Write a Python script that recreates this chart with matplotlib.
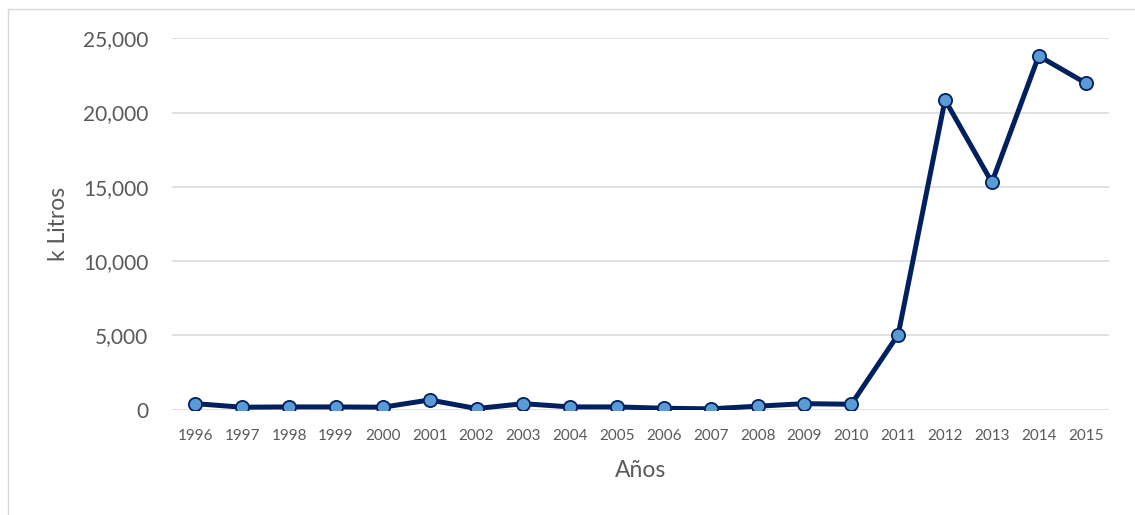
import matplotlib
matplotlib.use("Agg")
import matplotlib.pyplot as plt
from matplotlib.patches import Rectangle
from matplotlib.ticker import FuncFormatter

years = ['1996', '1997', '1998', '1999', '2000', '2001', '2002', '2003', '2004', '2005',
         '2006', '2007', '2008', '2009', '2010', '2011', '2012', '2013', '2014', '2015']
litros = [400, 160, 180, 180, 160, 650, 70, 400, 180, 180,
          90, 50, 230, 400, 360, 5050, 20850, 15300, 23810, 21990]
yticks = [0, 5000, 10000, 15000, 20000, 25000]

plt.rcParams['font.family'] = ['Lato', 'DejaVu Sans']
grey = '#595959'

fig = plt.figure(figsize=(11.35, 5.15), dpi=100)
ax = fig.add_axes([172 / 1135, 105.4 / 515, (1109 - 172) / 1135, (409.6 - 38.3) / 515])

# chart border
fig.patches.append(Rectangle((8 / 1135, -0.05), 1.1, 0.05 + (515 - 9) / 515,
                             transform=fig.transFigure, fill=False,
                             edgecolor='#D9D9D9', linewidth=1.0))

x = range(len(years))
ax.plot(x, litros, color='#002060', linewidth=3.6, marker='o', markersize=9.5,
        markerfacecolor='#5B9BD5', markeredgecolor='#002060', markeredgewidth=1.3,
        zorder=3, solid_joinstyle='round')

ax.set_xlim(-0.5, len(years) - 0.5)
ax.set_ylim(0, 25000)
ax.set_yticks(yticks)
ax.yaxis.set_major_formatter(FuncFormatter(lambda v, p: f'{int(v):,}'))
ax.set_xticks(list(x))
ax.set_xticklabels(years)

ax.grid(axis='y', color='#D9D9D9', linewidth=1.1)
ax.set_axisbelow(True)
for s in ax.spines.values():
    s.set_visible(False)
ax.tick_params(axis='both', length=0, colors=grey)
ax.tick_params(axis='y', labelsize=15, pad=17)
ax.tick_params(axis='x', labelsize=11, pad=14)

ax.set_xlabel('Años', fontsize=16.5, color=grey, labelpad=12)
ax.set_ylabel('k Litros', fontsize=16.5, color=grey, labelpad=10)

fig.savefig('out.png', dpi=100)
